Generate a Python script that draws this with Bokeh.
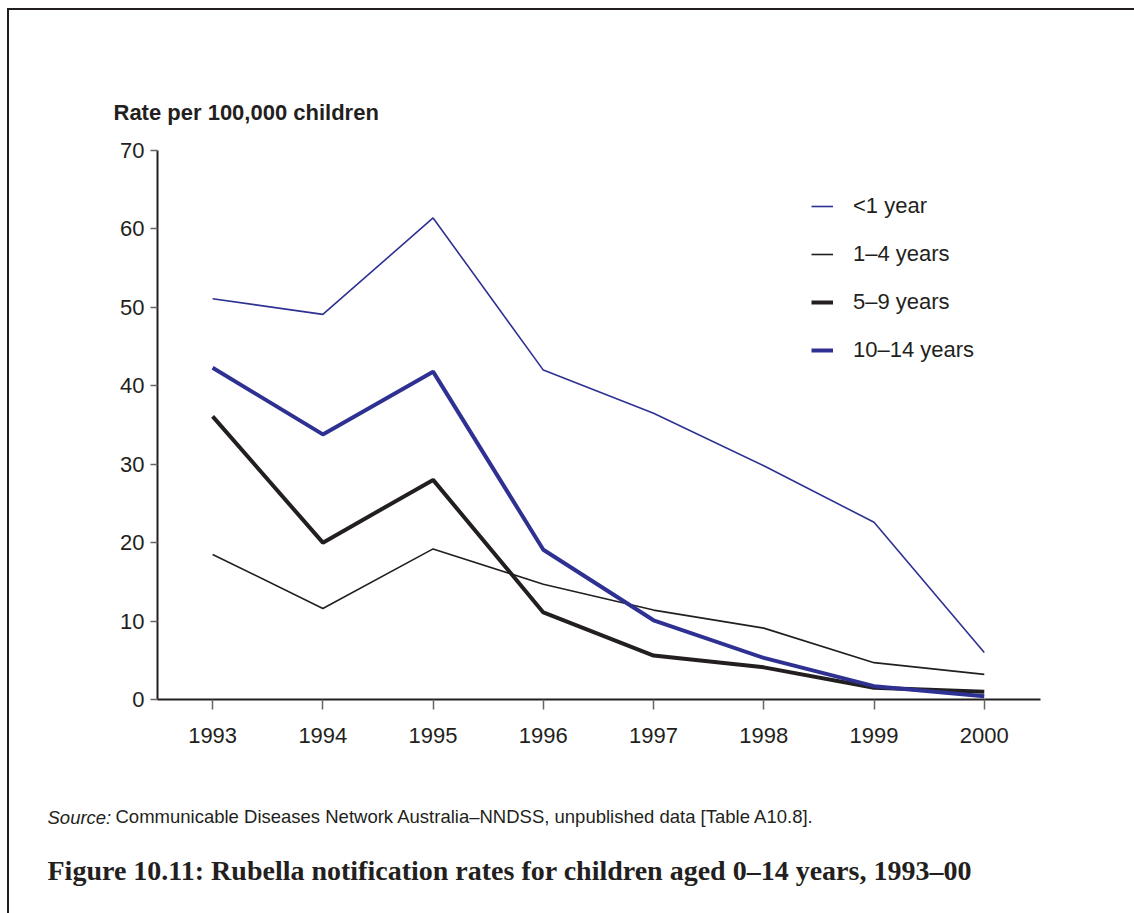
from bokeh.plotting import figure
from bokeh.models import Range1d, Legend, LegendItem, FixedTicker, Title
from bokeh.embed import file_html
from bokeh.resources import INLINE

years = [1993, 1994, 1995, 1996, 1997, 1998, 1999, 2000]
under1 = [51.1, 49.1, 61.4, 42.0, 36.5, 29.8, 22.6, 6.0]
age1_4 = [18.5, 11.6, 19.2, 14.7, 11.4, 9.1, 4.7, 3.2]
age5_9 = [36.1, 20.0, 28.0, 11.1, 5.6, 4.1, 1.5, 1.0]
age10_14 = [42.3, 33.8, 41.8, 19.1, 10.1, 5.3, 1.7, 0.4]
series_names = ["<1 year", "1\u20134 years", "5\u20139 years", "10\u201314 years"]
y_ticks = [0, 10, 20, 30, 40, 50, 60, 70]

BLUE = "#2e3192"
BLACK = "#231f20"
FONT = "Liberation Sans"

W, H = 1134, 913
FL, FR, FT, FB = 157, 1040, 150, 699

p = figure(width=W, height=H, output_backend="svg", toolbar_location=None,
           x_range=Range1d(1992.5, 2000.51), y_range=Range1d(0, 70),
           min_border_left=FL, min_border_right=W - FR,
           min_border_top=FT, min_border_bottom=H - FB)
# page frame (top and left rules) drawn behind a transparent canvas
p.styles = {
    "background-image": "linear-gradient(#231f20, #231f20), linear-gradient(#231f20, #231f20)",
    "background-size": "100% 2px, 2px 100%",
    "background-position": "7px 8px, 7px 8px",
    "background-repeat": "no-repeat",
}
p.border_fill_alpha = 0
p.background_fill_alpha = 0
p.outline_line_color = None
p.xgrid.visible = False
p.ygrid.visible = False

for ax in (p.xaxis[0], p.yaxis[0]):
    ax.axis_line_color = BLACK
    ax.axis_line_width = 2
    ax.major_tick_line_color = "#666666"
    ax.major_tick_line_width = 1.5
    ax.minor_tick_line_color = None
    ax.major_tick_in = 0
    ax.major_label_text_font = FONT
    ax.major_label_text_font_size = "22px"
    ax.major_label_text_color = BLACK
p.xaxis.ticker = FixedTicker(ticks=years)
p.xaxis.major_tick_out = 10
p.xaxis.major_label_standoff = 18
p.yaxis.ticker = FixedTicker(ticks=y_ticks)
p.yaxis.major_tick_out = 7
p.yaxis.major_label_standoff = 6

r1 = p.line(years, under1, line_color=BLUE, line_width=1.6)
r2 = p.line(years, age1_4, line_color=BLACK, line_width=1.6)
r3 = p.line(years, age5_9, line_color=BLACK, line_width=4)
r4 = p.line(years, age10_14, line_color=BLUE, line_width=4)

legend = Legend(items=[LegendItem(label=n, renderers=[r]) for n, r in zip(series_names, [r1, r2, r3, r4])],
                location=(654, 336), orientation="vertical")
legend.label_text_font = FONT
legend.label_text_font_size = "22px"
legend.label_text_color = BLACK
legend.glyph_width = 22
legend.glyph_height = 26
legend.label_height = 26
legend.spacing = 22
legend.label_standoff = 20
legend.padding = 0
legend.margin = 0
legend.border_line_color = None
legend.background_fill_alpha = 0
p.add_layout(legend, "center")

p.add_layout(Title(text="Rate per 100,000 children", align="left", offset=-44, standoff=51,
                   text_font=FONT, text_font_size="22px", text_font_style="bold",
                   text_color=BLACK), "above")

# below panel: spacer, source line (two styles on one line), spacer, caption
p.add_layout(Title(text=" ", align="left", standoff=46,
                   text_font=FONT, text_font_size="18.5px"), "below")
p.add_layout(Title(text="Communicable Diseases Network Australia\u2013NNDSS, unpublished data [Table A10.8].",
                   align="left", offset=-42, standoff=-22,
                   text_font=FONT, text_font_size="18.5px", text_font_style="normal",
                   text_color=BLACK), "below")
p.add_layout(Title(text="Source:", align="left", offset=-110, standoff=-22,
                   text_font=FONT, text_font_size="18.5px", text_font_style="italic",
                   text_color=BLACK), "below")
p.add_layout(Title(text=" ", align="left", standoff=29,
                   text_font=FONT, text_font_size="18.5px"), "below")
p.add_layout(Title(text="Figure 10.11: Rubella notification rates for children aged 0\u201314 years, 1993\u201300",
                   align="left", offset=-110, standoff=-31,
                   text_font="Liberation Serif", text_font_size="28px", text_font_style="bold",
                   text_color=BLACK), "below")

open("out.html", "w").write(file_html(p, INLINE))
